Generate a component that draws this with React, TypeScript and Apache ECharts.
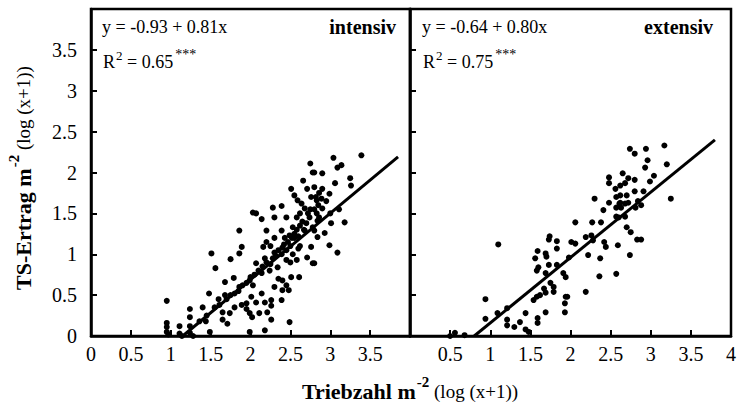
import React, { useEffect, useRef } from "react";
import * as echarts from "echarts";

const FONT = "Liberation Serif";

const intensivPoints: number[][] = [
  [0.95, 0.43], [0.95, 0.16], [0.95, 0.11], [0.95, 0.05], [0.97, 0.02],
  [1.11, 0.12], [1.11, 0.03], [1.14, 0.0],
  [1.24, 0.33], [1.24, 0.23], [1.24, 0.12], [1.24, 0.04], [1.28, 0.0],
  [1.36, 0.18], [1.4, 0.35], [1.44, 0.18], [1.49, 0.05], [1.48, 0.52], [1.51, 1.01], [1.56, 0.83],
  [1.61, 0.38], [1.65, 0.29], [1.65, 0.2], [1.68, 0.66], [1.68, 0.5], [1.71, 0.15], [1.74, 0.28],
  [1.75, 0.94], [1.79, 0.71], [1.8, 0.35], [1.8, 0.52], [1.86, 1.29], [1.86, 1.01], [1.86, 0.6],
  [1.89, 1.09], [1.89, 0.38], [1.95, 0.4], [1.95, 0.33], [1.99, 0.28], [1.99, 0.68], [1.99, 0.05],
  [2.01, 0.48], [2.03, 1.51], [2.03, 0.62], [2.02, 0.23], [2.07, 1.5], [2.07, 0.89], [2.07, 0.41],
  [2.11, 0.28], [2.14, 1.43], [2.14, 0.77], [2.14, 0.52], [2.16, 1.09], [2.18, 0.95], [2.18, 0.41],
  [2.18, 0.07], [2.2, 1.29], [2.21, 0.29], [2.24, 0.8], [2.26, 0.44], [2.26, 0.37], [2.26, 0.2],
  [2.28, 1.57], [2.3, 1.45], [2.3, 1.02], [2.34, 0.84], [2.39, 1.59], [2.39, 1.29], [2.39, 1.0],
  [2.39, 0.44], [2.4, 0.68], [2.4, 0.56], [2.43, 1.2], [2.45, 0.93], [2.48, 0.56], [2.49, 1.23],
  [2.49, 0.17], [2.51, 1.8], [2.51, 0.72], [2.53, 1.33], [2.53, 1.0], [2.55, 1.2], [2.58, 1.45],
  [2.58, 0.93], [2.59, 1.66], [2.6, 1.07], [2.61, 0.72], [2.64, 1.62], [2.68, 1.56], [2.68, 1.29],
  [2.71, 1.8], [2.71, 0.96], [2.74, 1.45], [2.75, 2.11], [2.76, 1.7], [2.76, 1.09], [2.78, 2.0],
  [2.78, 1.33], [2.78, 0.89], [2.8, 1.82], [2.8, 2.0], [2.8, 1.29], [2.8, 0.89], [2.83, 1.66],
  [2.83, 1.5], [2.84, 1.41], [2.84, 1.21], [2.85, 1.6], [2.86, 1.45], [2.89, 1.68], [2.9, 1.99],
  [2.9, 1.56], [2.93, 1.26], [2.99, 1.74], [2.99, 1.11], [3.01, 1.38], [3.04, 2.18], [3.06, 1.87],
  [3.09, 2.06], [3.09, 1.02], [3.11, 1.55], [3.14, 2.09], [3.18, 1.39], [3.25, 1.93], [3.26, 1.84],
  [3.39, 2.21],
  [1.45, 0.25], [1.55, 0.35], [1.6, 0.45], [1.7, 0.45], [1.75, 0.5], [1.85, 0.55], [1.9, 0.62],
  [1.95, 0.65], [2.0, 0.72], [2.05, 0.75], [2.1, 0.8], [2.15, 0.85], [2.2, 0.9], [2.25, 0.88],
  [2.28, 0.95], [2.32, 0.98], [2.35, 1.05], [2.4, 1.08], [2.42, 1.12], [2.45, 1.05], [2.47, 1.15],
  [2.5, 1.1], [2.52, 1.2], [2.55, 1.25], [2.58, 1.3], [2.6, 1.22], [2.62, 1.35], [2.65, 1.4],
  [2.67, 1.3], [2.7, 1.38], [2.72, 1.5], [2.75, 1.55], [2.8, 1.55], [2.82, 1.7], [2.86, 1.75],
  [2.9, 1.8], [2.95, 1.65], [3.0, 1.5], [2.3, 1.2], [2.25, 1.1], [2.2, 1.15], [2.35, 0.7],
  [2.45, 0.62], [2.3, 0.6], [2.5, 0.9], [2.62, 1.1], [2.66, 1.9], [2.55, 1.72], [2.45, 1.45],
  [2.62, 1.5],
];

const extensivPoints: number[][] = [
  [0.5, 0.0], [0.56, 0.04], [0.68, 0.01], [0.94, 0.45], [0.94, 0.21], [1.09, 0.28], [1.1, 1.12],
  [1.21, 0.34], [1.21, 0.2], [1.21, 0.13], [1.3, 0.11], [1.37, 0.17], [1.44, 0.28], [1.44, 0.08],
  [1.48, 0.05], [1.54, 0.44], [1.56, 0.95], [1.58, 0.48], [1.58, 0.8], [1.59, 0.22], [1.59, 0.16],
  [1.59, 1.04], [1.6, 0.84], [1.62, 0.5], [1.67, 0.58], [1.69, 0.29], [1.69, 0.77], [1.69, 1.01],
  [1.7, 0.97], [1.69, 0.53], [1.73, 1.18], [1.74, 1.22], [1.73, 0.87], [1.75, 0.65], [1.79, 0.6],
  [1.79, 0.54], [1.83, 1.16], [1.83, 1.07], [1.83, 0.87], [1.91, 0.77], [1.93, 0.4], [1.93, 0.29],
  [1.94, 0.72], [1.94, 0.48], [1.96, 0.48], [1.98, 0.96], [2.01, 1.15], [2.06, 1.13], [2.06, 1.39],
  [2.19, 1.21], [2.19, 0.54], [2.22, 0.99], [2.26, 1.23], [2.27, 1.39], [2.28, 1.17], [2.3, 1.68],
  [2.36, 0.73], [2.37, 0.95], [2.38, 1.39], [2.41, 1.54], [2.42, 1.15], [2.44, 1.09], [2.48, 1.94],
  [2.48, 1.87], [2.48, 1.63], [2.56, 1.8], [2.57, 1.7], [2.57, 1.57], [2.57, 1.46], [2.57, 0.76],
  [2.59, 1.11], [2.6, 1.45], [2.61, 1.62], [2.62, 1.84], [2.62, 1.63], [2.62, 1.72], [2.63, 1.57],
  [2.65, 1.99], [2.68, 1.87], [2.68, 1.62], [2.68, 1.46], [2.7, 1.72], [2.7, 1.33], [2.72, 1.93],
  [2.72, 1.63], [2.74, 2.29], [2.74, 0.99], [2.75, 1.27], [2.8, 2.23], [2.8, 1.91], [2.8, 1.77],
  [2.81, 1.57], [2.83, 1.18], [2.84, 1.65], [2.88, 1.6], [2.88, 1.18], [2.91, 1.77], [2.93, 2.06],
  [2.94, 2.29], [2.96, 2.15], [2.99, 1.89], [3.04, 1.96], [3.17, 2.33], [3.2, 2.1], [3.25, 1.68],
];

const intensivLine: number[][] = [[1.15, 0], [3.85, 2.19]];
const extensivLine: number[][] = [[0.8, 0], [3.8, 2.4]];

const panelNames = ["intensiv", "extensiv"];
const equations = ["y = -0.93 + 0.81x", "y = -0.64 + 0.80x"];
const r2Values = ["0.65", "0.75"];

const axisBase = {
  type: "value" as const,
  min: 0,
  max: 4,
  interval: 0.5,
  splitLine: { show: false },
  axisLine: { show: true, lineStyle: { color: "#000", width: 2.5 } },
  axisTick: { show: true, inside: true, length: 6, lineStyle: { color: "#000", width: 2 } },
};

const labelBase = { color: "#000", fontFamily: FONT, fontSize: 20 };

type Seg = { t: string; s: number; w?: string; dy?: number; gap?: number };

function buildRun(segs: Seg[], align: "left" | "center") {
  const canvas = document.createElement("canvas");
  const ctx = canvas.getContext("2d")!;
  const widths = segs.map((sg) => {
    ctx.font = `${sg.w || "normal"} ${sg.s}px "${FONT}"`;
    return ctx.measureText(sg.t).width + (sg.gap || 0);
  });
  const total = widths.reduce((a, b) => a + b, 0);
  let cursor = align === "center" ? -total / 2 : 0;
  return segs.map((sg, i) => {
    const el = {
      type: "text",
      x: cursor + (sg.gap || 0),
      y: sg.dy || 0,
      style: {
        text: sg.t,
        fontSize: sg.s,
        fontWeight: sg.w || "normal",
        fontFamily: FONT,
        fill: "#000",
        align: "left",
        verticalAlign: "middle",
      },
    };
    cursor += widths[i];
    return el;
  });
}

export default function App() {
  const ref = useRef<HTMLDivElement>(null);
  useEffect(() => {
    if (!ref.current) return;
    const chart = echarts.init(ref.current, null, { renderer: "svg" });
    const eqX = [102, 422];
    const nameX = [396, 713];
    const graphics: any[] = [];
    for (let i = 0; i < 2; i++) {
      graphics.push({
        type: "text", x: eqX[i], y: 27,
        style: { text: equations[i], fontSize: 18, fontFamily: FONT, fill: "#000", align: "left", verticalAlign: "middle" },
      });
      graphics.push({
        type: "group", x: eqX[i] + 1, y: 62,
        children: buildRun([
          { t: "R", s: 18 },
          { t: "2", s: 13, dy: -7, gap: 1 },
          { t: " = " + r2Values[i], s: 18 },
          { t: "***", s: 14, dy: -8, gap: 2 },
        ], "left"),
      });
      graphics.push({
        type: "text", x: nameX[i], y: 27,
        style: { text: panelNames[i], fontSize: 20, fontWeight: "bold", fontFamily: FONT, fill: "#000", align: "right", verticalAlign: "middle" },
      });
    }
    const titleSegs = (main: string): Seg[] => [
      { t: main, s: 22, w: "bold" },
      { t: "-2", s: 15, w: "bold", dy: -9, gap: 1 },
      { t: " (log (x+1))", s: 19 },
    ];
    graphics.push({
      type: "group", x: 410, y: 391,
      children: buildRun(titleSegs("Triebzahl m"), "center"),
    });
    graphics.push({
      type: "group", x: 23, y: 178, rotation: Math.PI / 2,
      children: buildRun(titleSegs("TS-Ertrag m"), "center"),
    });

    chart.setOption({
      animation: false,
      backgroundColor: "#fff",
      textStyle: { fontFamily: FONT },
      grid: [
        { left: 91, top: 9, width: 319, height: 327, show: true, borderColor: "#000", borderWidth: 2.5, backgroundColor: "transparent" },
        { left: 410, top: 9, width: 325, height: 327, show: true, borderColor: "#000", borderWidth: 2.5, backgroundColor: "transparent" },
      ],
      xAxis: [
        { ...axisBase, gridIndex: 0, axisLabel: { ...labelBase, margin: 8, showMaxLabel: false, showMinLabel: true } },
        { ...axisBase, gridIndex: 1, axisLabel: { ...labelBase, margin: 8, showMinLabel: false, showMaxLabel: true } },
      ],
      yAxis: [
        { ...axisBase, gridIndex: 0, axisLabel: { ...labelBase, margin: 14, showMaxLabel: false, showMinLabel: true } },
        { ...axisBase, gridIndex: 1, axisLabel: { show: false } },
      ],
      series: [
        { type: "scatter", xAxisIndex: 0, yAxisIndex: 0, data: intensivPoints, symbolSize: 6, itemStyle: { color: "#000", opacity: 1 } },
        { type: "line", xAxisIndex: 0, yAxisIndex: 0, data: intensivLine, showSymbol: false, symbol: "none", lineStyle: { color: "#000", width: 3 } },
        { type: "scatter", xAxisIndex: 1, yAxisIndex: 1, data: extensivPoints, symbolSize: 6, itemStyle: { color: "#000", opacity: 1 } },
        { type: "line", xAxisIndex: 1, yAxisIndex: 1, data: extensivLine, showSymbol: false, symbol: "none", lineStyle: { color: "#000", width: 3 } },
      ],
      graphic: graphics,
    });
    return () => chart.dispose();
  }, []);
  return (
    <div
      ref={ref}
      style={{ position: "fixed", left: 0, top: 0, width: 739, height: 406, background: "#fff" }}
    />
  );
}
